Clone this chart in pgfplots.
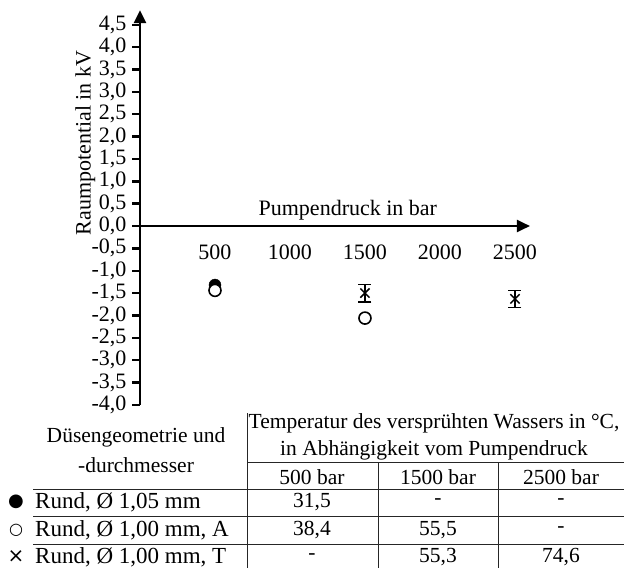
\documentclass[border=0pt]{standalone}
\usepackage{pgfplots}
\pgfplotsset{compat=1.18}
\usepackage{fontspec}
\setmainfont{Liberation Serif}
\newfontfamily\sym{DejaVu Sans}
\usetikzlibrary{arrows.meta}
\newcommand\ax{\fontsize{22bp}{24bp}\selectfont}
\newcommand\tb{\fontsize{21.5bp}{23bp}\selectfont}
\newcommand\tr{\fontsize{23bp}{25bp}\selectfont}
\begin{document}
\begin{tikzpicture}
\path[use as bounding box] (0bp,0bp) rectangle (624bp,-568bp);
\begin{axis}[
  at={(140bp,-226bp)}, anchor=origin,
  scale only axis, x=0.15bp, y=44.7bp,
  xmin=0, xmax=2600, ymin=-4, ymax=4.83,
  axis lines=middle,
  axis line style={line width=2.4bp, -{Triangle[length=13bp,width=12bp]}},
  hide obscured x ticks=false, hide obscured y ticks=false,
  xtick={500,1000,1500,2000,2500},
  ytick={-4,-3.5,...,4.5},
  xtick style={draw=none},
  tick align=center, major tick length=8bp,
  ytick style={line width=2.4bp, black, xshift=-4bp},
  /pgf/number format/assume math mode=true,
  xticklabel style={font=\ax, anchor=center, yshift=-22bp,
    /pgf/number format/1000 sep={}},
  yticklabel style={font=\ax, anchor=east, xshift=-6bp,
    /pgf/number format/.cd, fixed, fixed zerofill, precision=1, use comma},
  xlabel={Pumpendruck in bar},
  xlabel style={font=\ax, at={(axis description cs:0.533,0.494)}, anchor=center},
  ylabel={Raumpotential in kV},
  ylabel style={font=\ax, at={(axis description cs:-0.14,0.663)}, rotate=90, anchor=center},
  clip=false,
]
% Rund, 1,05 mm
\addplot[only marks, mark=*, mark size=6bp, black] coordinates {(500,-1.32)};
% Rund, 1,00 mm, A
\addplot[only marks, mark=*, mark size=6bp, black, mark options={fill=white, line width=1.6bp}]
  coordinates {(500,-1.44) (1500,-2.06)};
% Rund, 1,00 mm, T
\addplot[only marks, mark=x, mark size=6.5bp, black, line width=1.5bp,
  error bars/.cd, y dir=both, y explicit,
  error bar style={line width=1.2bp},
  error mark options={rotate=90, mark size=6.5bp, line width=1.2bp}]
  coordinates {(1500,-1.50) +- (0,0.20) (2500,-1.63) +- (0,0.19)};
\end{axis}
% table below the chart
\begin{scope}[line width=1bp, black!85]
\draw (247bp,-413bp) -- (247bp,-568bp);
\draw (247bp,-462bp) -- (624bp,-462bp);
\draw (378bp,-462bp) -- (378bp,-568bp);
\draw (498bp,-462bp) -- (498bp,-568bp);
\draw (33bp,-489bp) -- (624bp,-489bp);
\draw (33bp,-516bp) -- (624bp,-516bp);
\draw (33bp,-544bp) -- (624bp,-544bp);
\end{scope}
\node[font=\tb] at (434bp,-423bp) {Temperatur des versprühten Wassers in °C,};
\node[font=\tb] at (434bp,-450bp) {in Abhängigkeit vom Pumpendruck};
\node[font=\tb] at (136bp,-437bp) {Düsengeometrie und};
\node[font=\tb] at (136bp,-465bp) {-durchmesser};
\node[font=\tb] at (312bp,-477bp) {500 bar};
\node[font=\tb] at (438bp,-477bp) {1500 bar};
\node[font=\tb] at (561bp,-477bp) {2500 bar};
\node[font=\tr, anchor=west, inner sep=0pt] at (35bp,-502bp) {Rund, Ø 1,05 mm};
\node[font=\tr, anchor=west, inner sep=0pt] at (35bp,-530bp) {Rund, Ø 1,00 mm, A};
\node[font=\tr, anchor=west, inner sep=0pt] at (35bp,-557bp) {Rund, Ø 1,00 mm, T};
\node[font=\sym\fontsize{18bp}{20bp}\selectfont] at (16bp,-502bp) {●};
\node[font=\sym\fontsize{16bp}{18bp}\selectfont] at (16bp,-530bp) {○};
\node[font=\sym\fontsize{20bp}{22bp}\selectfont] at (16bp,-557bp) {×};
\node[font=\tb] at (312bp,-502bp) {31,5};
\node[font=\tb] at (438bp,-502bp) {-};
\node[font=\tb] at (561bp,-502bp) {-};
\node[font=\tb] at (312bp,-530bp) {38,4};
\node[font=\tb] at (438bp,-530bp) {55,5};
\node[font=\tb] at (561bp,-530bp) {-};
\node[font=\tb] at (312bp,-557bp) {-};
\node[font=\tb] at (438bp,-557bp) {55,3};
\node[font=\tb] at (561bp,-557bp) {74,6};
\end{tikzpicture}
\end{document}
